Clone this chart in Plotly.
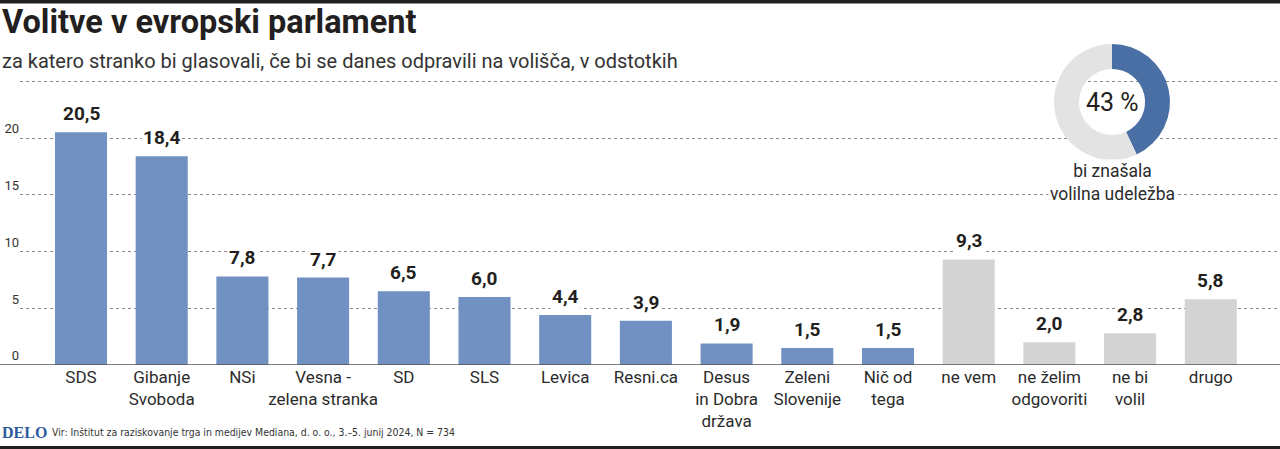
import plotly.graph_objects as go

# ---------------- data ----------------
categories = ["SDS", "Gibanje<br>Svoboda", "NSi", "Vesna -<br>zelena stranka", "SD", "SLS",
              "Levica", "Resni.ca", "Desus<br>in Dobra<br>država", "Zeleni<br>Slovenije",
              "Nič od<br>tega", "ne vem", "ne želim<br>odgovoriti", "ne bi<br>volil", "drugo"]
values = [20.5, 18.4, 7.8, 7.7, 6.5, 6.0, 4.4, 3.9, 1.9, 1.5, 1.5, 9.3, 2.0, 2.8, 5.8]
is_party = [True] * 11 + [False] * 4
value_labels = [f"{v:.1f}".replace(".", ",") for v in values]
tick_vals = [0, 5, 10, 15, 20, 25]
tick_text = ["0", "5", "10", "15", "20", ""]
turnout = [43, 57]
turnout_label = "43 %"

title = "Volitve v evropski parlament"
subtitle = "za katero stranko bi glasovali, če bi se danes odpravili na volišča, v odstotkih"
source = "Vir: Inštitut za raziskovanje trga in medijev Mediana, d. o. o., 3.–5. junij 2024, N = 734"

BLUE = "#7191c2"
GREY = "#d3d3d3"
DARK = "#231f20"
TEXT = "#2b2b2b"
FONT = "Roboto"

# plot area pixels
L, R, T, B = 20, 1280, 40, 365
W, H = R - L, B - T


def px(x):
    return (x - L) / W


def py(y):
    return (B - y) / H


fig = go.Figure()
fig.add_trace(go.Bar(
    x=list(range(len(categories))), y=values,
    marker=dict(color=[BLUE if p else GREY for p in is_party], line=dict(width=0)),
    hoverinfo="skip", showlegend=False,
))

# donut
cx, cy, rad = 1112, 102, 58
fig.add_trace(go.Pie(
    values=turnout, hole=0.57, sort=False, direction="clockwise", rotation=0,
    marker=dict(colors=["#4a6fa5", "#e3e3e3"], line=dict(width=0)),
    textinfo="none", hoverinfo="skip", showlegend=False,
    domain=dict(x=[px(cx - rad), px(cx + rad)], y=[py(cy + rad), py(cy - rad)]),
))

annotations = []
for i, (v, lab) in enumerate(zip(values, value_labels)):
    annotations.append(dict(
        x=i, y=v, xref="x", yref="y", text=f"<b>{lab}</b>", showarrow=False,
        yanchor="bottom", yshift=5, bgcolor="white", borderpad=1,
        font=dict(family=FONT, size=19, color=DARK),
    ))

annotations += [
    dict(x=px(0), y=py(22), xref="paper", yref="paper", text=f"<b>{title}</b>",
         showarrow=False, xanchor="left", yanchor="middle",
         font=dict(family=FONT, size=32.5, color=DARK)),
    dict(x=px(0), y=py(61), xref="paper", yref="paper", text=subtitle,
         showarrow=False, xanchor="left", yanchor="middle",
         font=dict(family=FONT, size=20, color="#333333")),
    dict(x=px(cx), y=py(cy), xref="paper", yref="paper", text=turnout_label,
         showarrow=False, xanchor="center", yanchor="middle",
         font=dict(family=FONT, size=25, color=DARK)),
    dict(x=px(cx), y=py(183), xref="paper", yref="paper",
         text="bi znašala<br>volilna udeležba", bgcolor="white",
         showarrow=False, xanchor="center", yanchor="middle",
         font=dict(family=FONT, size=17.5, color=TEXT)),
    dict(x=px(0), y=py(432), xref="paper", yref="paper", text="<b>DELO</b>",
         showarrow=False, xanchor="left", yanchor="middle",
         font=dict(family="Liberation Serif", size=16, color="#2d5b9c")),
    dict(x=px(50), y=py(432), xref="paper", yref="paper", text=source,
         showarrow=False, xanchor="left", yanchor="middle",
         font=dict(family="DejaVu Sans Condensed, Roboto", size=10.4, color="#333333")),
]

shapes = [
    # white disc in donut hole covering gridlines
    dict(type="circle", xref="paper", yref="paper", layer="between",
         x0=px(cx - rad), x1=px(cx + rad), y0=py(cy + rad), y1=py(cy - rad),
         fillcolor="white", line=dict(width=0)),
    # baseline
    dict(type="line", xref="paper", yref="y", x0=px(0), x1=1, y0=0, y1=0,
         line=dict(color="#555555", width=1.5)),
    # top bar
    dict(type="rect", xref="paper", yref="paper", x0=px(0), x1=1, y0=py(3.5), y1=py(0),
         fillcolor=DARK, line=dict(width=0)),
    # bottom rule
    dict(type="rect", xref="paper", yref="paper", x0=px(0), x1=1, y0=py(449), y1=py(446),
         fillcolor=DARK, line=dict(width=0)),
]

fig.update_layout(
    width=1280, height=449,
    margin=dict(l=L, r=1280 - R, t=T, b=449 - B),
    paper_bgcolor="white", plot_bgcolor="white",
    bargap=0.355,
    font=dict(family=FONT, color=TEXT),
    xaxis=dict(
        tickmode="array", tickvals=list(range(len(categories))), ticktext=categories,
        range=[(L - 81) / 80.7, (R - 81) / 80.7],
        showgrid=False, zeroline=False, showline=False, ticks="",
        tickfont=dict(family=FONT, size=17, color=TEXT), fixedrange=True,
    ),
    yaxis=dict(
        range=[0, H / 11.35], tickmode="array", tickvals=tick_vals, ticktext=tick_text,
        showgrid=True, gridcolor="#8a8a8a", griddash="dot", gridwidth=1,
        zeroline=False, showline=False, ticks="",
        ticklabelposition="outside top",
        tickfont=dict(family=FONT, size=13, color="#333333"), fixedrange=True,
    ),
    annotations=annotations, shapes=shapes,
)

fig.write_html("out.html", config={"displayModeBar": False},
               post_script="document.body.style.margin='0';")
